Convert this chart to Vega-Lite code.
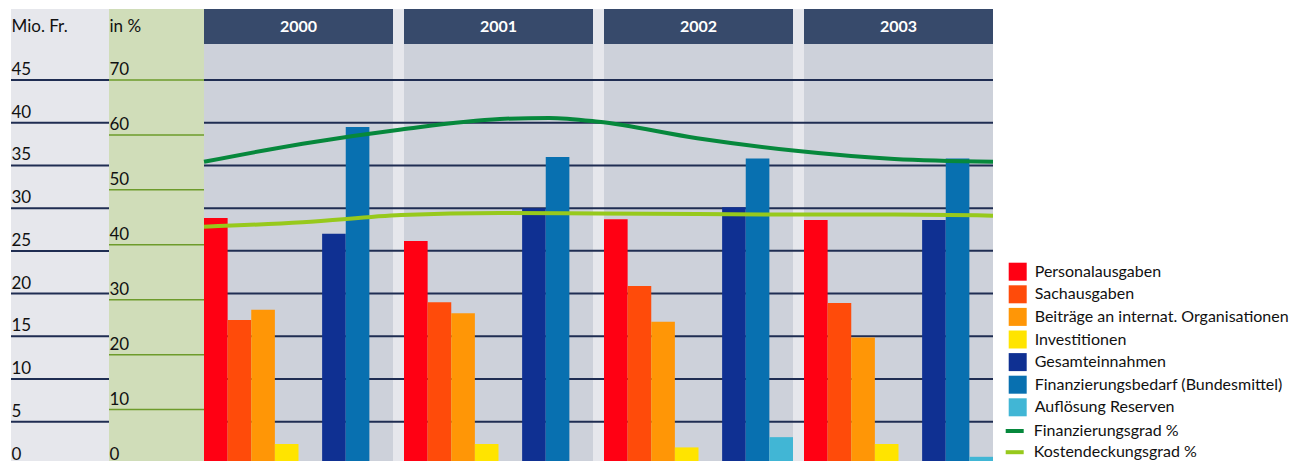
{
  "$schema": "https://vega.github.io/schema/vega-lite/v6.json",
  "autosize": {"type": "pad"},
  "padding": {"left": 10, "top": 9, "right": 0, "bottom": 0},
  "background": "white",
  "config": {
    "view": {"stroke": null},
    "font": "Lato",
    "axis": {"minExtent": 0, "maxExtent": 0, "domain": false, "ticks": false, "tickSize": 0, "labelFlush": false, "grid": false},
    "legend": {"padding": 0, "offset": 0}
  },
  "datasets": {
    "ausgaben": [
      {"Jahr": "2000", "Kategorie": "Personalausgaben", "Mio": 28.85},
      {"Jahr": "2000", "Kategorie": "Sachausgaben", "Mio": 16.9},
      {"Jahr": "2000", "Kategorie": "Beiträge an internat. Organisationen", "Mio": 18.1},
      {"Jahr": "2000", "Kategorie": "Investitionen", "Mio": 2.4},
      {"Jahr": "2000", "Kategorie": "Gesamteinnahmen", "Mio": 27.0},
      {"Jahr": "2000", "Kategorie": "Finanzierungsbedarf (Bundesmittel)", "Mio": 39.5},
      {"Jahr": "2000", "Kategorie": "Auflösung Reserven", "Mio": 0},
      {"Jahr": "2001", "Kategorie": "Personalausgaben", "Mio": 26.15},
      {"Jahr": "2001", "Kategorie": "Sachausgaben", "Mio": 19.0},
      {"Jahr": "2001", "Kategorie": "Beiträge an internat. Organisationen", "Mio": 17.7},
      {"Jahr": "2001", "Kategorie": "Investitionen", "Mio": 2.4},
      {"Jahr": "2001", "Kategorie": "Gesamteinnahmen", "Mio": 30.0},
      {"Jahr": "2001", "Kategorie": "Finanzierungsbedarf (Bundesmittel)", "Mio": 36.0},
      {"Jahr": "2001", "Kategorie": "Auflösung Reserven", "Mio": 0},
      {"Jahr": "2002", "Kategorie": "Personalausgaben", "Mio": 28.7},
      {"Jahr": "2002", "Kategorie": "Sachausgaben", "Mio": 20.9},
      {"Jahr": "2002", "Kategorie": "Beiträge an internat. Organisationen", "Mio": 16.7},
      {"Jahr": "2002", "Kategorie": "Investitionen", "Mio": 2.0},
      {"Jahr": "2002", "Kategorie": "Gesamteinnahmen", "Mio": 30.1},
      {"Jahr": "2002", "Kategorie": "Finanzierungsbedarf (Bundesmittel)", "Mio": 35.8},
      {"Jahr": "2002", "Kategorie": "Auflösung Reserven", "Mio": 3.2},
      {"Jahr": "2003", "Kategorie": "Personalausgaben", "Mio": 28.6},
      {"Jahr": "2003", "Kategorie": "Sachausgaben", "Mio": 18.9},
      {"Jahr": "2003", "Kategorie": "Beiträge an internat. Organisationen", "Mio": 14.85},
      {"Jahr": "2003", "Kategorie": "Investitionen", "Mio": 2.4},
      {"Jahr": "2003", "Kategorie": "Gesamteinnahmen", "Mio": 28.6},
      {"Jahr": "2003", "Kategorie": "Finanzierungsbedarf (Bundesmittel)", "Mio": 35.8},
      {"Jahr": "2003", "Kategorie": "Auflösung Reserven", "Mio": 0.9}
    ],
    "jahre": [{"Jahr": "2000"}, {"Jahr": "2001"}, {"Jahr": "2002"}, {"Jahr": "2003"}],
    "grad": [
      {"Reihe": "Finanzierungsgrad %", "Zeit": 2000.0, "Prozent": 55.1},
      {"Reihe": "Finanzierungsgrad %", "Zeit": 2000.5, "Prozent": 58.4},
      {"Reihe": "Finanzierungsgrad %", "Zeit": 2001.0, "Prozent": 61.0},
      {"Reihe": "Finanzierungsgrad %", "Zeit": 2001.5, "Prozent": 62.9},
      {"Reihe": "Finanzierungsgrad %", "Zeit": 2001.75, "Prozent": 63.1},
      {"Reihe": "Finanzierungsgrad %", "Zeit": 2002.0, "Prozent": 62.4},
      {"Reihe": "Finanzierungsgrad %", "Zeit": 2002.5, "Prozent": 59.4},
      {"Reihe": "Finanzierungsgrad %", "Zeit": 2003.0, "Prozent": 57.1},
      {"Reihe": "Finanzierungsgrad %", "Zeit": 2003.5, "Prozent": 55.6},
      {"Reihe": "Finanzierungsgrad %", "Zeit": 2004.0, "Prozent": 55.1},
      {"Reihe": "Kostendeckungsgrad %", "Zeit": 2000.0, "Prozent": 43.3},
      {"Reihe": "Kostendeckungsgrad %", "Zeit": 2000.5, "Prozent": 44.1},
      {"Reihe": "Kostendeckungsgrad %", "Zeit": 2001.0, "Prozent": 45.4},
      {"Reihe": "Kostendeckungsgrad %", "Zeit": 2001.5, "Prozent": 45.8},
      {"Reihe": "Kostendeckungsgrad %", "Zeit": 2002.0, "Prozent": 45.7},
      {"Reihe": "Kostendeckungsgrad %", "Zeit": 2002.5, "Prozent": 45.6},
      {"Reihe": "Kostendeckungsgrad %", "Zeit": 2003.0, "Prozent": 45.5},
      {"Reihe": "Kostendeckungsgrad %", "Zeit": 2003.5, "Prozent": 45.5},
      {"Reihe": "Kostendeckungsgrad %", "Zeit": 2004.0, "Prozent": 45.3}
    ],
    "raster_mio": [
      {"Mio": 0}, {"Mio": 5}, {"Mio": 10}, {"Mio": 15}, {"Mio": 20},
      {"Mio": 25}, {"Mio": 30}, {"Mio": 35}, {"Mio": 40}, {"Mio": 45}
    ],
    "raster_proz": [
      {"Prozent": 0}, {"Prozent": 10}, {"Prozent": 20}, {"Prozent": 30},
      {"Prozent": 40}, {"Prozent": 50}, {"Prozent": 60}, {"Prozent": 70}
    ]
  },
  "spacing": 0,
  "bounds": "flush",
  "hconcat": [
    {
      "width": 98,
      "height": 455.5,
      "view": {"fill": "#e6e7ec"},
      "data": {"name": "raster_mio"},
      "mark": {"type": "rule", "color": "#1f2d52", "strokeWidth": 2},
      "encoding": {
        "y": {
          "field": "Mio",
          "type": "quantitative",
          "scale": {"domain": [0, 53.31], "nice": false},
          "axis": {
            "values": [0, 5, 10, 15, 20, 25, 30, 35, 40, 45],
            "title": "Mio. Fr.",
            "titleAngle": 0,
            "titleAlign": "left",
            "titleBaseline": "alphabetic",
            "titleX": 0,
            "titleY": 22,
            "titleFontSize": 17,
            "titleFontWeight": "normal",
            "titleColor": "#111111",
            "labelAlign": "left",
            "labelBaseline": "alphabetic",
            "labelPadding": 0,
            "labelOffset": -5.5,
            "labelFontSize": 17,
            "labelColor": "#111111"
          }
        }
      }
    },
    {
      "width": 95,
      "height": 455.5,
      "view": {"fill": "#d0ddb9"},
      "data": {"name": "raster_proz"},
      "mark": {"type": "rule", "color": "#6d9b2b", "strokeWidth": 1.5},
      "encoding": {
        "y": {
          "field": "Prozent",
          "type": "quantitative",
          "scale": {"domain": [0, 82.92], "nice": false},
          "axis": {
            "values": [0, 10, 20, 30, 40, 50, 60, 70],
            "title": "in %",
            "titleAngle": 0,
            "titleAlign": "left",
            "titleBaseline": "alphabetic",
            "titleX": 0,
            "titleY": 22,
            "titleFontSize": 17,
            "titleFontWeight": "normal",
            "titleColor": "#111111",
            "labelAlign": "left",
            "labelBaseline": "alphabetic",
            "labelPadding": 0,
            "labelOffset": -5.5,
            "labelFontSize": 17,
            "labelColor": "#111111"
          }
        }
      }
    },
    {
      "spacing": 0,
      "bounds": "flush",
      "vconcat": [
        {
          "width": 789,
          "height": 35,
          "view": {"fill": "#e6e7ec"},
          "data": {"name": "jahre"},
          "layer": [
            {
              "mark": {"type": "rect", "color": "#374a6b"},
              "encoding": {
                "x": {"field": "Jahr", "type": "nominal", "scale": {"paddingInner": 0.055, "paddingOuter": 0}, "axis": null}
              }
            },
            {
              "mark": {"type": "text", "color": "white", "fontWeight": "bold", "fontSize": 16, "baseline": "middle"},
              "encoding": {
                "x": {"field": "Jahr", "type": "nominal", "axis": null},
                "text": {"field": "Jahr"}
              }
            }
          ]
        },
        {
          "width": 789,
          "height": 420.5,
          "view": {"fill": "#e6e7ec"},
          "layer": [
            {
              "data": {"name": "jahre"},
              "mark": {"type": "rect", "color": "#cdd1da"},
              "encoding": {
                "x": {"field": "Jahr", "type": "nominal", "scale": {"paddingInner": 0.055, "paddingOuter": 0}, "axis": null}
              }
            },
            {
              "data": {"name": "raster_mio"},
              "mark": {"type": "rule", "color": "#1f2d52", "strokeWidth": 2},
              "encoding": {
                "y": {"field": "Mio", "type": "quantitative", "scale": {"domain": [0, 49.21], "nice": false}, "axis": null}
              }
            },
            {
              "data": {"name": "ausgaben"},
              "mark": {"type": "bar"},
              "encoding": {
                "x": {"field": "Jahr", "type": "nominal", "scale": {"paddingInner": 0.055, "paddingOuter": 0}, "axis": null},
                "xOffset": {
                  "field": "Kategorie",
                  "type": "nominal",
                  "scale": {
                    "domain": ["Personalausgaben", "Sachausgaben", "Beiträge an internat. Organisationen", "Investitionen", "Abstand", "Gesamteinnahmen", "Finanzierungsbedarf (Bundesmittel)", "Auflösung Reserven"],
                    "paddingInner": 0,
                    "paddingOuter": 0
                  }
                },
                "y": {"field": "Mio", "type": "quantitative", "scale": {"domain": [0, 49.21], "nice": false}, "axis": null},
                "color": {
                  "field": "Kategorie",
                  "type": "nominal",
                  "scale": {
                    "domain": ["Personalausgaben", "Sachausgaben", "Beiträge an internat. Organisationen", "Investitionen", "Gesamteinnahmen", "Finanzierungsbedarf (Bundesmittel)", "Auflösung Reserven"],
                    "range": ["#ff0013", "#ff4b0a", "#ff9606", "#ffe400", "#0f3092", "#0870b0", "#41b6d5"]
                  },
                  "legend": {
                    "orient": "none",
                    "legendX": 997.7,
                    "legendY": 253.7,
                    "title": null,
                    "symbolType": "square",
                    "symbolSize": 324,
                    "symbolStrokeWidth": 0,
                    "symbolOpacity": 1,
                    "labelFontSize": 16,
                    "labelOffset": 8,
                    "labelColor": "#111111",
                    "labelLimit": 400,
                    "rowPadding": 4.6
                  }
                }
              }
            },
            {
              "data": {"name": "grad"},
              "mark": {"type": "line", "strokeWidth": 4, "interpolate": "monotone"},
              "encoding": {
                "x": {"field": "Zeit", "type": "quantitative", "scale": {"domain": [2000, 2004], "nice": false, "zero": false}, "axis": null},
                "y": {"field": "Prozent", "type": "quantitative", "scale": {"domain": [0, 76.55], "nice": false}, "axis": null},
                "stroke": {
                  "field": "Reihe",
                  "type": "nominal",
                  "scale": {"domain": ["Finanzierungsgrad %", "Kostendeckungsgrad %"], "range": ["#06883c", "#97c91c"]},
                  "legend": {
                    "orient": "none",
                    "legendX": 992.7,
                    "legendY": 411,
                    "title": null,
                    "symbolType": "stroke",
                    "symbolSize": 324,
                    "symbolStrokeWidth": 4,
                    "labelFontSize": 16,
                    "labelOffset": 8,
                    "labelColor": "#111111",
                    "labelLimit": 400,
                    "rowPadding": 2.2
                  }
                }
              }
            }
          ],
          "resolve": {"scale": {"x": "independent", "y": "independent"}}
        }
      ]
    }
  ]
}
